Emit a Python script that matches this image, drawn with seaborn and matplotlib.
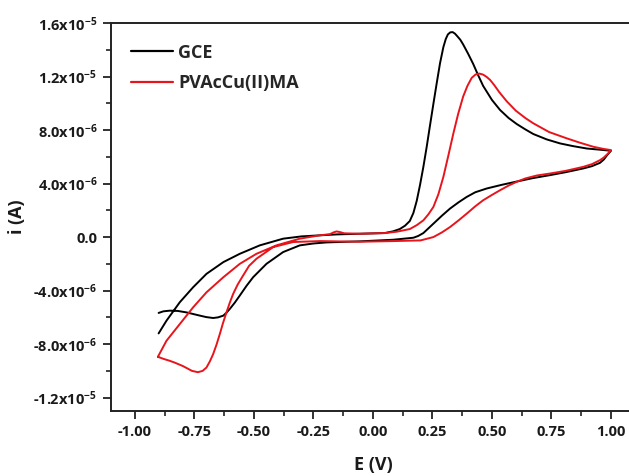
import matplotlib
matplotlib.use("Agg")
import matplotlib.pyplot as plt
from matplotlib.ticker import FixedLocator, FixedFormatter, MultipleLocator
import numpy as np
import pandas as pd
import seaborn as sns

# ---------------- data (E in V, i in 1e-6 A) ----------------
gce_E = [-0.900, -0.867, -0.811, -0.755, -0.699, -0.628, -0.559, -0.475, -0.377, -0.300,
         -0.223, -0.150, -0.050, 0.050, 0.085, 0.113, 0.135, 0.155, 0.170, 0.184,
         0.198, 0.212, 0.226, 0.239, 0.254, 0.268, 0.282, 0.296, 0.306, 0.315,
         0.325, 0.335, 0.345, 0.355, 0.367, 0.379, 0.400, 0.421, 0.442, 0.463,
         0.500, 0.534, 0.570, 0.604, 0.640, 0.674, 0.730, 0.786, 0.840, 0.898,
         0.960, 1.000,
         0.985, 0.970, 0.954, 0.920, 0.884, 0.810, 0.744, 0.670, 0.604, 0.540,
         0.478, 0.430, 0.394, 0.360, 0.324, 0.290, 0.254, 0.230, 0.212, 0.190,
         0.170, 0.085, -0.055, -0.195, -0.250, -0.307, -0.377, -0.447, -0.503,
         -0.531, -0.559, -0.580, -0.601, -0.615, -0.628, -0.650, -0.671, -0.700,
         -0.727, -0.783, -0.820, -0.853, -0.880, -0.900]
gce_i = [-7.20, -6.25, -4.87, -3.75, -2.75, -1.87, -1.25, -0.62, -0.12, 0.05,
         0.13, 0.20, 0.25, 0.30, 0.43, 0.60, 0.85, 1.20, 1.80, 2.70,
         3.90, 5.25, 6.75, 8.25, 9.95, 11.50, 13.00, 14.20, 14.80, 15.15,
         15.30, 15.32, 15.20, 15.00, 14.75, 14.40, 13.70, 12.95, 12.10, 11.30,
         10.25, 9.50, 8.90, 8.45, 8.05, 7.70, 7.30, 7.00, 6.80, 6.62,
         6.52, 6.45,
         6.15, 5.80, 5.55, 5.30, 5.13, 4.85, 4.63, 4.40, 4.15, 3.90,
         3.63, 3.35, 3.00, 2.60, 2.13, 1.60, 1.00, 0.60, 0.30, 0.08,
         -0.05, -0.20, -0.32, -0.40, -0.48, -0.62, -1.12, -2.00, -3.00,
         -3.65, -4.37, -4.90, -5.37, -5.65, -5.87, -6.00, -6.05, -5.98,
         -5.87, -5.63, -5.52, -5.50, -5.55, -5.67]

pva_E = [-0.903, -0.867, -0.811, -0.755, -0.699, -0.628, -0.559, -0.489, -0.405, -0.307,
         -0.223, -0.180, -0.165, -0.153, -0.140, -0.120, -0.055, 0.050, 0.100, 0.155,
         0.185, 0.212, 0.233, 0.254, 0.275, 0.296, 0.317, 0.338, 0.358, 0.379,
         0.397, 0.415, 0.431, 0.447, 0.462, 0.477, 0.492, 0.510, 0.530, 0.562, 0.600,
         0.640, 0.674, 0.740, 0.814, 0.870, 0.926, 0.965, 1.000,
         0.985, 0.970, 0.954, 0.920, 0.884, 0.810, 0.744, 0.688, 0.640, 0.604,
         0.570, 0.534, 0.500, 0.463, 0.430, 0.394, 0.360, 0.324, 0.290, 0.254,
         0.200, 0.085, -0.055, -0.223, -0.335, -0.419, -0.489, -0.520, -0.545,
         -0.568, -0.587, -0.601, -0.615, -0.630, -0.643, -0.657, -0.671, -0.685,
         -0.699, -0.715, -0.735, -0.760, -0.797, -0.830, -0.853, -0.880, -0.903]
pva_i = [-8.95, -7.75, -6.50, -5.25, -4.13, -3.00, -2.00, -1.25, -0.62, -0.12,
         0.13, 0.22, 0.35, 0.42, 0.38, 0.28, 0.25, 0.30, 0.40, 0.60,
         0.90, 1.25, 1.70, 2.25, 3.20, 4.50, 6.10, 7.75, 9.20, 10.50,
         11.30, 11.90, 12.15, 12.22, 12.15, 11.98, 11.75, 11.35, 10.85, 10.15, 9.45,
         8.90, 8.50, 7.85, 7.38, 7.05, 6.75, 6.60, 6.50,
         6.20, 5.95, 5.75, 5.45, 5.25, 4.95, 4.75, 4.60, 4.38, 4.13,
         3.85, 3.50, 3.15, 2.75, 2.30, 1.75, 1.25, 0.75, 0.35, 0.00,
         -0.25, -0.30, -0.35, -0.30, -0.37, -0.75, -1.62, -2.15, -2.87,
         -3.55, -4.25, -4.90, -5.63, -6.45, -7.25, -8.05, -8.75, -9.30,
         -9.75, -10.00, -10.10, -10.00, -9.65, -9.40, -9.25, -9.10, -8.95]

series_names = ["GCE", "PVAcCu(II)MA"]
series_colors = ["#000000", "#e8141c"]

x_ticks = [-1.00, -0.75, -0.50, -0.25, 0.00, 0.25, 0.50, 0.75, 1.00]
x_tick_labels = ["-1.00", "-0.75", "-0.50", "-0.25", "0.00", "0.25", "0.50", "0.75", "1.00"]
y_ticks = [1.6e-5, 1.2e-5, 8.0e-6, 4.0e-6, 0.0, -4.0e-6, -8.0e-6, -1.2e-5]
y_tick_labels = [r"1.6x10$^{-5}$", r"1.2x10$^{-5}$", r"8.0x10$^{-6}$", r"4.0x10$^{-6}$",
                 "0.0", r"-4.0x10$^{-6}$", r"-8.0x10$^{-6}$", r"-1.2x10$^{-5}$"]

# ---------------- style ----------------
sns.set_theme(style="ticks")
plt.rcParams["font.family"] = ["Open Sans", "DejaVu Sans"]
plt.rcParams["font.weight"] = "bold"
plt.rcParams["mathtext.fontset"] = "custom"
plt.rcParams["mathtext.rm"] = "Open Sans:bold"
plt.rcParams["mathtext.bf"] = "Open Sans:bold"
plt.rcParams["mathtext.default"] = "bf"

fig = plt.figure(figsize=(6.29, 4.76), dpi=100)
ax = fig.add_axes([111 / 629, 65 / 476, 523.8 / 629, 388 / 476])

frames = []
for name, E, I in [(series_names[0], gce_E, gce_i), (series_names[1], pva_E, pva_i)]:
    frames.append(pd.DataFrame({"E": E, "i": np.array(I) * 1e-6, "series": name}))
df = pd.concat(frames, ignore_index=True)

sns.lineplot(data=df, x="E", y="i", hue="series", units="series", estimator=None,
             sort=False, palette=dict(zip(series_names, series_colors)),
             linewidth=1.4, ax=ax)

ax.set_xlim(-1.1, 1.1)
ax.set_ylim(-1.3e-5, 1.6e-5)

ax.xaxis.set_major_locator(FixedLocator(x_ticks))
ax.xaxis.set_major_formatter(FixedFormatter(x_tick_labels))
ax.xaxis.set_minor_locator(MultipleLocator(0.125))
ax.yaxis.set_major_locator(FixedLocator(y_ticks))
ax.yaxis.set_major_formatter(FixedFormatter(y_tick_labels))
ax.yaxis.set_minor_locator(MultipleLocator(2e-6))

ax.tick_params(which="major", direction="out", length=6, width=1.3, color="#222222",
               labelsize=10.5, labelcolor="#1a1a1a", pad=4)
ax.tick_params(which="minor", direction="out", length=3.5, width=1.2, color="#222222")
for lab in ax.get_xticklabels() + ax.get_yticklabels():
    lab.set_fontweight("bold")

ax.spines["right"].set_visible(False)
for side in ["left", "bottom", "top"]:
    ax.spines[side].set_linewidth(1.4)
    ax.spines[side].set_color("#222222")

ax.set_xlabel("E (V)", fontsize=13, fontweight="bold", color="#1a1a1a", labelpad=12)
ax.set_ylabel("i (A)", fontsize=13, fontweight="bold", color="#1a1a1a", labelpad=5)

leg = ax.legend(loc="upper left", frameon=False, fontsize=13, handlelength=2.3,
                handletextpad=0.3, labelspacing=0.7, borderaxespad=0.0,
                bbox_to_anchor=(0.025, 0.965))
for t in leg.get_texts():
    t.set_fontweight("bold")
for h in leg.get_lines():
    h.set_linewidth(1.6)

fig.savefig("out.png", dpi=100)
